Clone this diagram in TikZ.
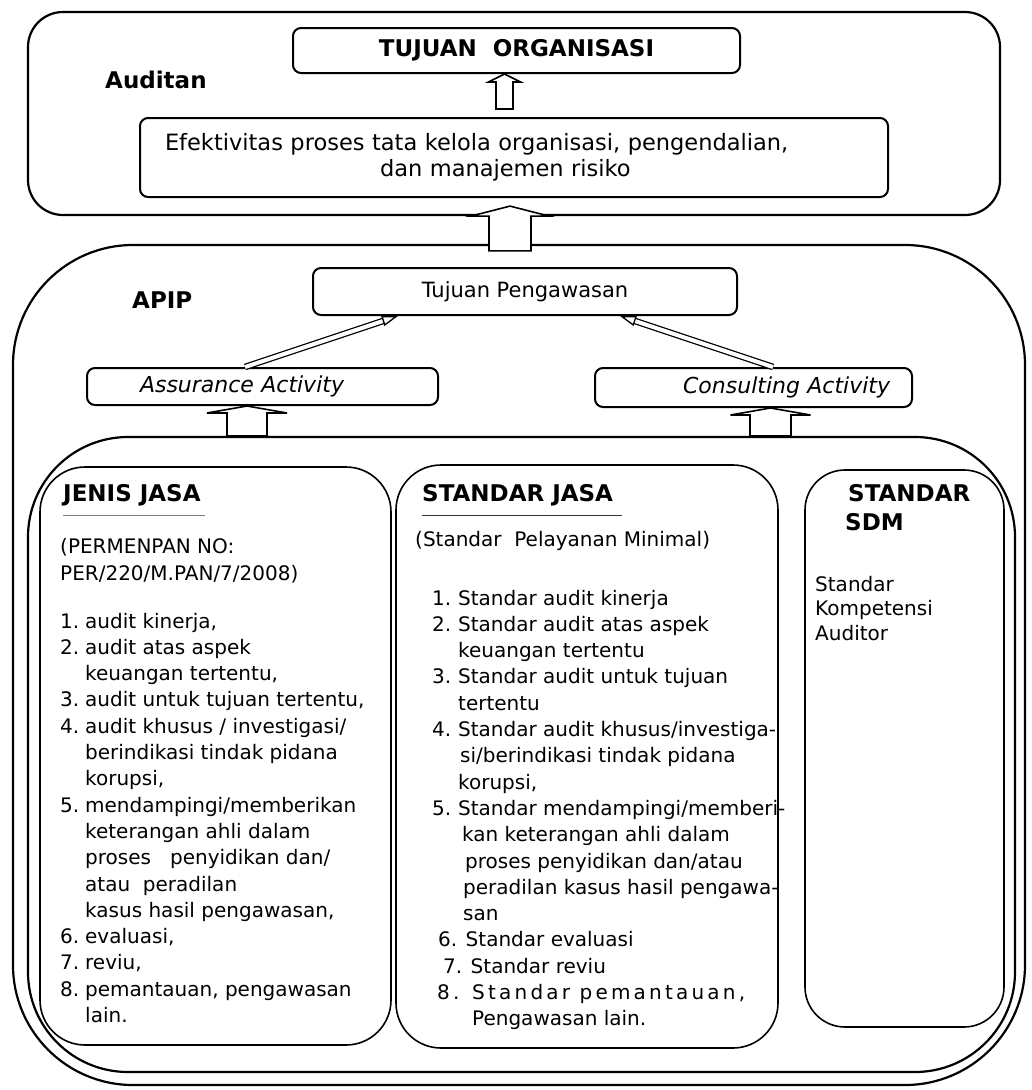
\documentclass[tikz,border=0pt]{standalone}
\usepackage{fontspec}
\setmainfont{DejaVu Sans}
\usetikzlibrary{arrows.meta,positioning,calc}
\newcommand{\bodyfont}{\fontsize{20}{26.3}\selectfont}
\newcommand{\headfont}{\fontsize{23}{26}\selectfont\bfseries}
\tikzset{
  bigbox/.style={draw, line width=2.2pt, rounded corners=#1},
  box/.style={draw, line width=2pt, rounded corners=8pt, inner sep=0pt, font=\bodyfont},
  colbox/.style={draw, line width=1.6pt, rounded corners=45pt},
  head/.style={font=\headfont, inner sep=0pt, anchor=base west},
  txt/.style={font=\bodyfont, inner sep=0pt, anchor=base west},
  hollow/.style n args={3}{draw, fill=white, line width=1.6pt, to path={
    let \p1=(\tikztostart), \p2=(\tikztotarget) in
    (\x1-#1,\y1) -- (\x1-#1,\y2-#2) -- (\x1-#3,\y2-#2) -- (\x1,\y2)
    -- (\x1+#3,\y2-#2) -- (\x1+#1,\y2-#2) -- (\x1+#1,\y1) -- cycle}},
  twin/.style={draw, line width=1.3pt, double, double distance=4pt,
    -{Triangle[open, length=16pt, width=10pt]}},
}
\begin{document}
\begin{tikzpicture}[x=1pt, y=-1pt]
\useasboundingbox (0,0) rectangle (1032,1090);

% Auditan
\node[bigbox=35pt, minimum width=972pt, minimum height=203pt] (auditan) at (514,113.5) {};
\node[head] (laudit) at (105,88) {Auditan};
\node[box, minimum width=447pt, minimum height=45pt, font=\headfont] (tuj) at (516.5,50.5) {TUJUAN\ \ ORGANISASI};
\node[box, minimum width=748pt, minimum height=79pt, text width=698pt, inner xsep=25pt, align=left,
  font=\fontsize{22.5}{26}\selectfont] (eff) at (514,157.5)
  {Efektivitas proses tata kelola organisasi, pengendalian,\\\hspace*{215pt}dan manajemen risiko};

% APIP
\node[bigbox=120pt, minimum width=1012pt, minimum height=840pt] (apip) at (519,665) {};
\node[head] (lapip) at (132,308) {APIP};
\node[box, minimum width=424pt, minimum height=47pt, font=\fontsize{21}{24}\selectfont] (tpeng) at (525,291.5) {Tujuan Pengawasan};
\node[box, minimum width=351pt, minimum height=37pt, text width=245pt, inner xsep=53pt, align=left,
  font=\fontsize{22}{24}\selectfont\itshape] (assur) at (262.5,386.5) {Assurance Activity};
\node[box, minimum width=317pt, minimum height=39pt, text width=273pt, inner xsep=22pt, align=right,
  font=\fontsize{22}{24}\selectfont\itshape] (consult) at (753.5,387.5) {Consulting Activity};

% layanan
\node[bigbox=100pt, minimum width=987pt, minimum height=635pt] (inner) at (521.5,754.5) {};
\node[colbox, minimum width=351pt, minimum height=578pt] (jenis) at (215.5,756) {};
\node[colbox, minimum width=382pt, minimum height=583pt] (sjasa) at (587,756.5) {};
\node[colbox, rounded corners=40pt, minimum width=199pt, minimum height=557pt] (ssdm) at (904.5,748.5) {};

% jenis jasa
\node[head] (hjenis) at (63,501) {JENIS JASA};
\draw[line width=0.8pt, black!50] ([yshift=-14pt]hjenis.base west) -- ++(142,0);
\node[txt, align=left] (pjenis) at (60,580) {(PERMENPAN NO:\\PER/220/M.PAN/7/2008)};
\node[txt] (ljenis) at (60,628) {\begin{tabular}[t]{@{}p{25pt}@{}l@{}}
1. & audit kinerja,\\
2. & audit atas aspek\\
   & keuangan tertentu,\\
3. & audit untuk tujuan tertentu,\\
4. & audit khusus / investigasi/\\
   & berindikasi tindak pidana\\
   & korupsi,\\
5. & mendampingi/memberikan\\
   & keterangan ahli dalam\\
   & proses\ \ \ penyidikan dan/\\
   & atau\ \ peradilan\\
   & kasus hasil pengawasan,\\
6. & evaluasi,\\
7. & reviu,\\
8. & pemantauan, pengawasan\\
   & lain.
\end{tabular}};

% standar jasa
\node[head] (hsjasa) at (422,501) {STANDAR JASA};
\draw[line width=1pt, black!80] ([yshift=-14pt]hsjasa.base west) -- ++(200,0);
\node[txt] (psjasa) at (415,546) {(Standar\ \ Pelayanan Minimal)};
\node[txt] (lsjasa) at (432,605) {\begin{tabular}[t]{@{}p{26pt}@{}l@{}}
1. & Standar audit kinerja\\
2. & Standar audit atas aspek\\
   & keuangan tertentu\\
3. & Standar audit untuk tujuan\\
   & tertentu\\
4. & Standar audit khusus/investiga-\\
   & \hspace{2pt}si/berindikasi tindak pidana\\
   & korupsi,\\
5. & Standar mendampingi/memberi-\\
   & \hspace{4pt}kan keterangan ahli dalam\\
   & \hspace{7pt}proses penyidikan dan/atau\\
   & \hspace{5pt}peradilan kasus hasil pengawa-\\
   & \hspace{5pt}san\\
\multicolumn{2}{@{}l@{}}{\hspace{6pt}6. Standar evaluasi}\\
\multicolumn{2}{@{}l@{}}{\hspace{11pt}7. Standar reviu}\\
\multicolumn{2}{@{}l@{}}{\hspace{5pt}{\addfontfeatures{LetterSpace=16}8. Standar pemantauan,}}\\
   & \hspace{14pt}Pengawasan lain.
\end{tabular}};

% standar sdm
\node[head, align=left] (hssdm) at (848,530) {STANDAR\\[3pt]\hspace*{-3pt}SDM};
\node[txt, align=left, font=\fontsize{20}{24.5}\selectfont] (lssdm) at (815,640) {Standar\\Kompetensi\\Auditor};

% panah
\draw[hollow={8.5pt}{8pt}{16pt}] ([xshift=-9.5pt, yshift=8pt]eff.north) to (tuj.south);
\draw[hollow={21pt}{10pt}{39pt}] ([xshift=-9pt, yshift=-7pt]apip.north) to ([yshift=10pt]auditan.south);
\coordinate (aa) at ([xshift=-15.5pt]assur.south);
\coordinate (ca) at ([xshift=17pt]consult.south);
\draw[hollow={20pt}{7pt}{40pt}] (aa |- inner.north) to (aa);
\draw[hollow={20.5pt}{7pt}{40pt}] (ca |- inner.north) to (ca);
\draw[twin] ([xshift=-17.5pt]assur.north) -- ([xshift=-127pt]tpeng.south);
\draw[twin] ([xshift=19.5pt]consult.north) -- ([xshift=95pt]tpeng.south);
\end{tikzpicture}
\end{document}
